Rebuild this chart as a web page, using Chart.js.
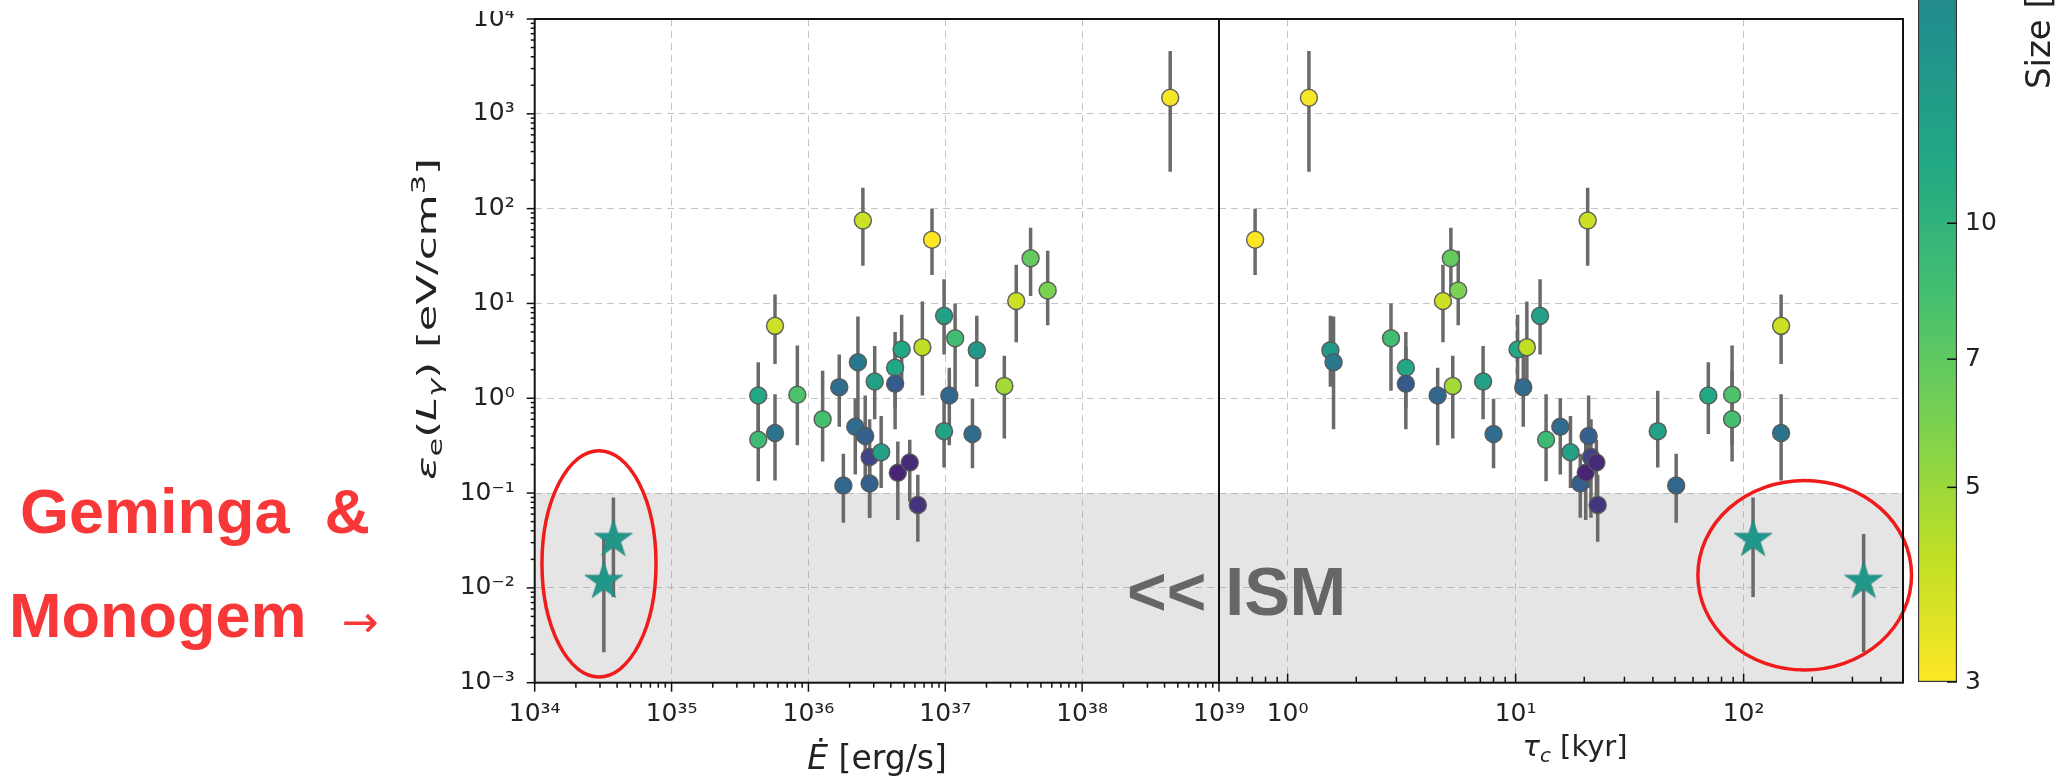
<!DOCTYPE html>
<html>
<head>
<meta charset="utf-8">
<script src="https://cdn.jsdelivr.net/npm/chart.js@4.4.1/dist/chart.umd.min.js"></script>
<style>
  html, body { margin: 0; padding: 0; background: #fff; }
  body { width: 2060px; height: 779px; overflow: hidden; position: relative; font-family: "DejaVu Sans", sans-serif; }
  #leftClip { position: absolute; left: 0; top: 11px; width: 1300px; height: 768px; overflow: hidden; }
  #leftChart { position: absolute; left: 0; top: -11px; }
  #rightChart { position: absolute; left: 1150px; top: 0; }
  #barChart { position: absolute; left: 1900px; top: -700px; }
  .note { position: absolute; font-family: "Liberation Sans", Arial, sans-serif; font-weight: bold; white-space: pre; line-height: 1; }
  .red { color: #f83838; font-size: 63px; }
  .arrow { font-family: "DejaVu Sans", sans-serif; font-weight: normal; font-size: 44px; }
  .ism { color: #666666; font-size: 68px; }
</style>
</head>
<body>
<div id="leftClip"><canvas id="leftChart" width="1300" height="779"></canvas></div>
<canvas id="rightChart" width="910" height="779"></canvas>
<canvas id="barChart" width="160" height="1479"></canvas>

<div class="note red" style="left:20px; top:480px;">Geminga  &amp;</div>
<div class="note red" style="left:9px; top:584px;">Monogem  <span class="arrow">→</span></div>
<div class="note ism" style="left:1127px; top:557px;">&lt;&lt; ISM</div>

<script>
// ---------------- data ----------------
// pulsars: spin-down power [erg/s], characteristic age [kyr],
// electron energy density [eV/cm^3] with its lower / upper bound, and source size
const edot   = [4.4e38, 2.5e36, 8.0e36, 4.2e37, 5.6e37, 3.3e37, 5.7e35, 9.8e36, 1.18e37, 1.7e37,
                4.8e36, 6.8e36, 2.3e36, 3.05e36, 4.3e36, 4.3e36, 1.68e36, 1.07e37, 2.7e37, 4.3e35,
                8.3e35, 1.27e36, 4.3e35, 5.7e35, 2.2e36, 2.6e36, 2.8e36, 3.4e36, 1.8e36, 2.8e36,
                4.5e36, 5.5e36, 6.3e36, 9.8e36, 1.58e37];
const tauc   = [1.24, 20.7, 0.72, 5.2, 5.6, 4.8, 146, 12.8, 2.84, 1.54,
                10.2, 11.2, 1.59, 7.2, 3.3, 3.3, 10.8, 4.55, 5.3, 70,
                89, 89, 13.6, 146, 15.7, 20.9, 21.4, 17.4, 50.6, 19.2,
                20.3, 22.6, 22.9, 42, 8.0];
const eps    = [1480, 75, 47, 30, 13.7, 10.6, 5.8, 7.4, 4.3, 3.2,
                3.27, 3.46, 2.4, 1.5, 2.1, 1.42, 1.31, 1.07, 1.35, 1.07,
                1.09, 0.60, 0.365, 0.43, 0.50, 0.40, 0.24, 0.27, 0.12, 0.126,
                0.164, 0.21, 0.075, 0.45, 0.42];
const epsLo  = [245, 25, 20, 12, 5.9, 3.9, 2.3, 2.9, 1.2, 1.32,
                1.3, 1.07, 0.47, 0.6, 0.8, 0.47, 0.5, 0.32, 0.377, 0.42,
                0.32, 0.215, 0.133, 0.136, 0.157, 0.113, 0.055, 0.113, 0.0485, 0.055,
                0.052, 0.081, 0.0307, 0.186, 0.183];
const epsHi  = [4600, 166, 100, 63, 36, 25.6, 12.4, 18, 10, 7.4,
                7.6, 10.5, 7.3, 3.55, 5.0, 3.5, 2.9, 2.1, 2.8, 2.4,
                3.6, 1.95, 1.1, 1.1, 1.0, 1.07, 0.6, 0.65, 0.26, 0.26,
                0.35, 0.365, 0.156, 1.2, 0.99];
const size   = [3.1, 3.9, 3.0, 6.8, 5.9, 3.9, 3.9, 13, 8.6, 14.8,
                11.7, 4.2, 23, 13, 11.7, 34.7, 27, 29, 4.8, 11.7,
                7.8, 8.3, 8.9, 24.7, 27, 32, 45, 13, 29, 32,
                64, 60, 54, 13, 27];

// Monogem and Geminga
const haloNames = ['Monogem', 'Geminga'];
const haloEdot  = [3.76e34, 3.2e34];
const haloTauc  = [110, 336];
const haloEps   = [0.0324, 0.0117];
const haloLo    = [0.008, 0.0021];
const haloHi    = [0.09, 0.037];
const haloSize  = [15, 15];

// axis ranges and ticks
const edotRange = [1e34, 1e39];
const tauRange  = [0.5, 500];
const epsRange  = [1e-3, 1e4];
const ismLevel  = 0.1;
const sizeRange = [3, 90];
const sizeTicks = [3, 5, 7, 10, 20, 30, 50];

// ---------------- helpers ----------------
const viridisStops = ['#440154','#482475','#414487','#355f8d','#2a788e','#21918c',
                      '#22a884','#44bf70','#7ad151','#bddf26','#fde725'];
function hexRgb(h) { return [1, 3, 5].map(k => parseInt(h.substr(k, 2), 16)); }
function viridis(t) {
  t = Math.min(1, Math.max(0, t));
  const f = t * 10, i = Math.min(9, Math.floor(f)), u = f - i;
  const a = hexRgb(viridisStops[i]), b = hexRgb(viridisStops[i + 1]);
  return 'rgb(' + a.map((v, k) => Math.round(v + (b[k] - v) * u)).join(',') + ')';
}
// reversed viridis on a log size axis: small = yellow, large = purple
function sizeColor(s) {
  return viridis(1 - Math.log(s / sizeRange[0]) / Math.log(sizeRange[1] / sizeRange[0]));
}
function isPow10(v) { const l = Math.log10(v); return Math.abs(l - Math.round(l)) < 1e-6; }
const SUP = {'0':'⁰','1':'¹','2':'²','3':'³','4':'⁴','5':'⁵','6':'⁶','7':'⁷','8':'⁸','9':'⁹','-':'⁻'};
function pow10Label(v) {
  const e = Math.round(Math.log10(v));
  return '10' + String(e).split('').map(c => SUP[c]).join('');
}
function logTicks(min, max) {
  const out = [];
  for (let e = Math.floor(Math.log10(min)) - 1; e <= Math.ceil(Math.log10(max)); e++) {
    for (let m = 1; m < 10; m++) {
      const v = m * Math.pow(10, e);
      if (v >= min * 0.9999 && v <= max * 1.0001) out.push({ value: v });
    }
  }
  return out;
}
// filled five-pointed star marker
function makeStar(color, R) {
  const c = document.createElement('canvas');
  const S = Math.ceil(2 * R + 4);
  c.width = S; c.height = S;
  const g = c.getContext('2d');
  g.translate(S / 2, S / 2);
  g.beginPath();
  for (let k = 0; k < 10; k++) {
    const a = -Math.PI / 2 + k * Math.PI / 5;
    const r = k % 2 === 0 ? R : R * 0.381966;
    g.lineTo(r * Math.cos(a), r * Math.sin(a));
  }
  g.closePath();
  g.fillStyle = color;
  g.fill();
  g.lineWidth = 1;
  g.strokeStyle = 'rgba(40,120,115,0.6)';
  g.stroke();
  return c;
}
// fixed axis thickness, and no extra room reserved for the end labels
function fixBox(w, h) {
  return s => {
    if (w !== null) s.width = w;
    if (h !== null) s.height = h;
    s.paddingTop = 0; s.paddingBottom = 0; s.paddingLeft = 0; s.paddingRight = 0;
  };
}
// nudge the layout padding until the plot area sits on the wanted pixels
function pinArea(chart, target) {
  for (let k = 0; k < 4; k++) {
    const a = chart.chartArea, p = chart.options.layout.padding;
    const dl = target.left - a.left, dr = a.right - target.right;
    const dt = target.top - a.top, db = a.bottom - target.bottom;
    if (Math.abs(dl) + Math.abs(dr) + Math.abs(dt) + Math.abs(db) < 0.05) break;
    p.left += dl; p.right += dr; p.top += dt; p.bottom += db;
    chart.update();
  }
}

// ---------------- plugins ----------------
const ismShade = {
  id: 'ismShade',
  beforeDraw(chart, args, o) {
    if (!o.level) return;
    const { ctx, chartArea: a } = chart;
    const y = chart.scales.y.getPixelForValue(o.level);
    ctx.save();
    ctx.fillStyle = '#e5e5e5';
    ctx.fillRect(a.left, y, a.right - a.left, a.bottom - y);
    ctx.restore();
  }
};

const errorBars = {
  id: 'errorBars',
  beforeDatasetsDraw(chart) {
    const { ctx, chartArea: a } = chart;
    const xs = chart.scales.x, ys = chart.scales.y;
    ctx.save();
    ctx.beginPath();
    ctx.rect(a.left, a.top, a.right - a.left, a.bottom - a.top);
    ctx.clip();
    ctx.strokeStyle = '#6a6a6a';
    ctx.lineWidth = 3.5;
    chart.data.datasets.forEach(ds => {
      if (!ds.errLo) return;
      ds.data.forEach((p, i) => {
        const x = xs.getPixelForValue(p.x);
        ctx.beginPath();
        ctx.moveTo(x, ys.getPixelForValue(ds.errLo[i]));
        ctx.lineTo(x, ys.getPixelForValue(ds.errHi[i]));
        ctx.stroke();
      });
    });
    ctx.restore();
  }
};

const ringMarks = {
  id: 'ringMarks',
  afterDatasetsDraw(chart, args, o) {
    if (!o.rings) return;
    const ctx = chart.ctx, xs = chart.scales.x, ys = chart.scales.y;
    ctx.save();
    ctx.strokeStyle = '#f01c1c';
    ctx.lineWidth = 3.5;
    o.rings.forEach(r => {
      const x1 = xs.getPixelForValue(r.x[0]), x2 = xs.getPixelForValue(r.x[1]);
      const y1 = ys.getPixelForValue(r.y[0]), y2 = ys.getPixelForValue(r.y[1]);
      ctx.beginPath();
      ctx.ellipse((x1 + x2) / 2, (y1 + y2) / 2, Math.abs(x2 - x1) / 2, Math.abs(y2 - y1) / 2, 0, 0, Math.PI * 2);
      ctx.stroke();
    });
    ctx.restore();
  }
};

// tick marks (long at decades, short in between) and the box round the plot
const frameAndTicks = {
  id: 'frameAndTicks',
  afterDraw(chart, args, o) {
    const { ctx, chartArea: a } = chart;
    ctx.save();
    ctx.strokeStyle = '#111';
    ctx.lineWidth = 1.5;
    (o.axes || []).forEach(ax => {
      const sc = chart.scales[ax.id];
      sc.ticks.forEach(t => {
        const len = (ax.all || isPow10(t.value)) ? ax.major : ax.minor;
        ctx.beginPath();
        if (sc.isHorizontal()) {
          const x = sc.getPixelForValue(t.value);
          ctx.moveTo(x, a.bottom); ctx.lineTo(x, a.bottom + ax.dir * len);
        } else {
          const y = sc.getPixelForValue(t.value);
          const x0 = ax.side === 'right' ? a.right : a.left;
          const s = ax.side === 'right' ? -1 : 1;
          ctx.moveTo(x0, y); ctx.lineTo(x0 - s * ax.dir * len, y);
        }
        ctx.stroke();
      });
    });
    if (o.box !== false) {
      ctx.lineWidth = 2;
      ctx.strokeRect(a.left, a.top, a.right - a.left, a.bottom - a.top);
    }
    ctx.restore();
  }
};

// axis titles with italics, sub- and superscripts
function drawRich(ctx, item) {
  const base = item.size;
  const fontOf = p => (p.it ? 'italic ' : '') + Math.round(base * (p.sub || p.sup ? 0.7 : 1)) + 'px "DejaVu Sans"';
  let W = 0;
  item.parts.forEach(p => { ctx.font = fontOf(p); p._w = ctx.measureText(p.t).width; W += p._w; });
  const sx = item.fit ? item.fit / W : 1;
  ctx.save();
  ctx.translate(item.x, item.y);
  if (item.rot) ctx.rotate(-Math.PI / 2);
  ctx.scale(sx, item.sy || 1);
  ctx.fillStyle = '#222';
  ctx.textBaseline = 'alphabetic';
  let x = item.start ? 0 : -W / 2;
  item.parts.forEach(p => {
    ctx.font = fontOf(p);
    const dy = p.sub ? base * 0.22 : (p.sup ? -base * 0.42 : 0);
    ctx.fillText(p.t, x, dy);
    x += p._w;
  });
  ctx.restore();
}
const richTitles = {
  id: 'richTitles',
  afterDraw(chart, args, o) {
    (o.items || []).forEach(it => drawRich(chart.ctx, typeof it === 'function' ? it(chart) : it));
  }
};

// ---------------- shared scale pieces ----------------
const tickFont = { family: 'DejaVu Sans', size: 25 };
const gridColor = ctx => (ctx.tick && isPow10(ctx.tick.value)) ? 'rgba(150,150,150,0.55)' : 'rgba(0,0,0,0)';

function logAxis(range, extra, tickPad) {
  return Object.assign({
    type: 'logarithmic',
    min: range[0],
    max: range[1],
    afterBuildTicks: s => { s.ticks = logTicks(range[0], range[1]); },
    ticks: {
      autoSkip: false, maxRotation: 0, minRotation: 0, padding: tickPad,
      font: tickFont, color: '#222',
      callback: v => isPow10(v) ? pow10Label(v) : ''
    },
    grid: { color: gridColor, lineWidth: 1, drawTicks: false },
    border: { display: false, dash: [7, 5] }
  }, extra);
}

const commonOpts = { responsive: false, animation: false, events: [], devicePixelRatio: 1 };

const pulsarStyle = {
  pointRadius: 8.5,
  pointBackgroundColor: size.map(sizeColor),
  pointBorderColor: 'rgba(85,85,85,0.9)',
  pointBorderWidth: 1.5
};
const haloStars = haloSize.map(s => makeStar(sizeColor(s), 20));

// ---------------- left panel: energy density vs spin-down power ----------------
const leftChart = new Chart(document.getElementById('leftChart'), {
  type: 'scatter',
  data: {
    datasets: [
      Object.assign({ label: 'pulsars', data: edot.map((x, i) => ({ x, y: eps[i] })),
                      errLo: epsLo, errHi: epsHi }, pulsarStyle),
      { label: 'halos', data: haloEdot.map((x, i) => ({ x, y: haloEps[i] })),
        errLo: haloLo, errHi: haloHi, pointStyle: haloStars, pointRadius: 18 }
    ]
  },
  options: Object.assign({}, commonOpts, {
    layout: { padding: { left: 400, right: 81, top: 14, bottom: 0 } },
    scales: {
      x: logAxis(edotRange, { afterFit: fixBox(null, 96.3) }, 17),
      y: logAxis(epsRange, { afterFit: fixBox(134.7, null) }, 20)
    },
    plugins: {
      legend: { display: false },
      tooltip: { enabled: false },
      ismShade: { level: ismLevel },
      ringMarks: { rings: [{ x: [1.13e34, 7.7e34], y: [1.15e-3, 0.28] }] },
      frameAndTicks: { axes: [{ id: 'x', dir: 1, major: 9, minor: 5 }, { id: 'y', dir: 1, major: 8, minor: 4 }] },
      richTitles: { items: [
        { parts: [{ t: 'Ė', it: true }, { t: ' [erg/s]' }], x: 877, y: 769, size: 33 },
        { parts: [{ t: 'ε', it: true }, { t: 'e', sub: true }, { t: '(' }, { t: 'L', it: true },
                  { t: 'γ', it: true, sub: true }, { t: ') [eV/cm' }, { t: '3', sup: true }, { t: ']' }],
          x: 436, y: 319, size: 27, rot: true, fit: 322 }
      ] }
    }
  }),
  plugins: [ismShade, errorBars, ringMarks, frameAndTicks, richTitles]
});
// canvas sits 11px above the clipping box, so page y == canvas y
pinArea(leftChart, { left: 534.7, right: 1219, top: 14, bottom: 682.7 });

// ---------------- right panel: energy density vs characteristic age ----------------
const rightY = logAxis(epsRange, { afterFit: fixBox(0, null) }, 0);
rightY.ticks.display = false;
const rightChart = new Chart(document.getElementById('rightChart'), {
  type: 'scatter',
  data: {
    datasets: [
      Object.assign({ label: 'pulsars', data: tauc.map((x, i) => ({ x, y: eps[i] })),
                      errLo: epsLo, errHi: epsHi }, pulsarStyle),
      { label: 'halos', data: haloTauc.map((x, i) => ({ x, y: haloEps[i] })),
        errLo: haloLo, errHi: haloHi, pointStyle: haloStars, pointRadius: 18 }
    ]
  },
  options: Object.assign({}, commonOpts, {
    layout: { padding: { left: 69, right: 157, top: 14, bottom: 0 } },
    scales: {
      x: logAxis(tauRange, { afterFit: fixBox(null, 96.3) }, 17),
      y: rightY
    },
    plugins: {
      legend: { display: false },
      tooltip: { enabled: false },
      ismShade: { level: ismLevel },
      ringMarks: { rings: [{ x: [63, 545], y: [1.36e-3, 0.136] }] },
      frameAndTicks: { axes: [{ id: 'x', dir: -1, major: 9, minor: 6 }] },
      richTitles: { items: [
        { parts: [{ t: 'τ', it: true }, { t: 'c', it: true, sub: true }, { t: ' [kyr]' }], x: 425, y: 756, size: 29 }
      ] }
    }
  }),
  plugins: [ismShade, errorBars, ringMarks, frameAndTicks, richTitles]
});
// canvas starts at page x = 1150
pinArea(rightChart, { left: 69, right: 753, top: 14, bottom: 682.7 });

// ---------------- colour bar: source size ----------------
const barChart = new Chart(document.getElementById('barChart'), {
  type: 'bar',
  data: {
    labels: ['size'],
    datasets: [{
      data: [sizeRange.slice()],
      barPercentage: 1,
      categoryPercentage: 1,
      borderSkipped: false,
      borderWidth: 1.5,
      borderColor: '#333',
      backgroundColor: ctx => {
        const ch = ctx.chart;
        if (!ch.chartArea) return '#21918c';
        const ys = ch.scales.y;
        const g = ch.ctx.createLinearGradient(0, ys.getPixelForValue(sizeRange[0]), 0, ys.getPixelForValue(sizeRange[1]));
        for (let k = 0; k <= 10; k++) g.addColorStop(k / 10, viridisStops[10 - k]);
        return g;
      }
    }]
  },
  options: Object.assign({}, commonOpts, {
    layout: { padding: { left: 18, right: 0, top: 86, bottom: 97 } },
    scales: {
      x: { display: false },
      y: {
        type: 'logarithmic',
        position: 'right',
        min: sizeRange[0],
        max: sizeRange[1],
        afterBuildTicks: s => { s.ticks = sizeTicks.map(v => ({ value: v })); },
        afterFit: fixBox(103, null),
        ticks: { font: tickFont, color: '#222', padding: 8, autoSkip: false, callback: v => String(v) },
        grid: { display: false, drawTicks: false },
        border: { display: false }
      }
    },
    plugins: {
      legend: { display: false },
      tooltip: { enabled: false },
      frameAndTicks: { box: false, axes: [{ id: 'y', side: 'right', dir: -1, major: 10, all: true }] },
      richTitles: { items: [
        { parts: [{ t: 'Size [pc]' }], x: 150, y: 789, size: 34, rot: true, start: true }
      ] }
    }
  }),
  plugins: [frameAndTicks, richTitles]
});
// canvas starts at page (1900, -700)
pinArea(barChart, { left: 18, right: 57, top: 86, bottom: 1382 });
</script>
</body>
</html>
